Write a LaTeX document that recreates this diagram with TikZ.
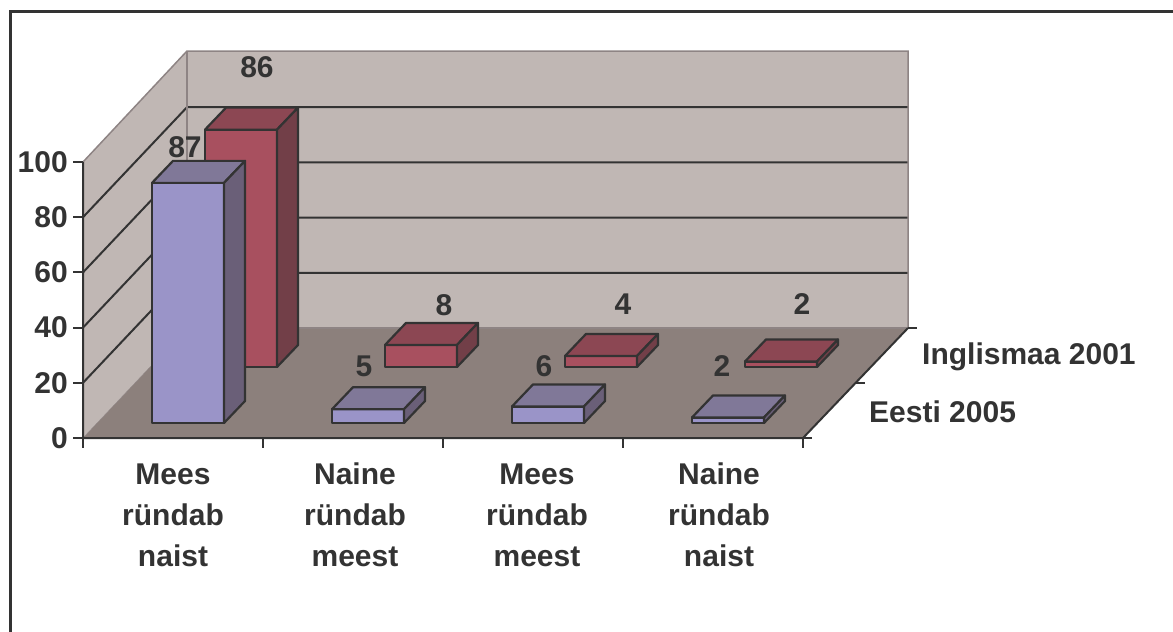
\documentclass[tikz,border=0pt]{standalone}
\usepackage{fontspec}
\setmainfont{Liberation Sans}
\usetikzlibrary{positioning}
\definecolor{wallgray}{HTML}{C0B7B4}
\definecolor{floorgray}{HTML}{8C807C}
\definecolor{edgegray}{HTML}{8E8484}
\definecolor{inkgray}{HTML}{333333}
\definecolor{bluefront}{HTML}{9A94C8}
\definecolor{bluetop}{HTML}{807898}
\definecolor{blueside}{HTML}{6A5F78}
\definecolor{redfront}{HTML}{A8505F}
\definecolor{redtop}{HTML}{8C4753}
\definecolor{redside}{HTML}{723F48}

\begin{document}
\begin{tikzpicture}[x=1pt, y=-1pt,
    lbl/.style={font=\fontsize{30}{41}\selectfont\bfseries, text=inkgray, inner sep=0pt},
    gridline/.style={inkgray, line width=2pt},
    walledge/.style={edgegray, line width=1.5pt},
    barline/.style={draw=inkgray, line width=2.2pt, line join=round}]
  \useasboundingbox (0,0) rectangle (1173,632);
  % Frame
  \draw[inkgray, line width=3pt] (10,632) -- (10,11) -- (1173,11);

  % Walls
  \fill[wallgray] (83,438) -- (83,162) -- (187,51) -- (908,51) -- (908,328) -- (187,328) -- cycle;
  \foreach \k in {1,...,4} {
    \draw[gridline] (83,438-55.2*\k) -- (187,328-55.2*\k) -- (908,328-55.2*\k);
  }
  \draw[walledge] (83,162) -- (187,51) -- (908,51) -- (908,328);
  \draw[walledge] (187,51) -- (187,328);

  % Floor
  \fill[floorgray] (83,438) -- (803,438) -- (908,328) -- (187,328) -- cycle;
  \draw[walledge] (187,328) -- (908,328);
  \draw[edgegray, thin] (83,438) -- (187,328);

  % Axes and ticks
  \draw[gridline] (83,162) -- (83,438) -- (803,438) -- (908,328);
  \foreach \k in {0,...,5} {
    \draw[gridline] (73,438-55.2*\k) -- (83,438-55.2*\k);
    \pgfmathtruncatemacro\yv{20*\k}
    \node[lbl, anchor=east] (y\k) at (68,438-55.2*\k) {\yv};
  }
  \foreach \k in {0,...,4} {
    \draw[gridline] (83+180*\k,438) -- ++(0,10);
  }
  \foreach \k in {0,1,2} {
    \draw[gridline] (803+52.5*\k,438-55*\k) -- ++(9,0);
  }

  % Inglismaa 2001 (back row)
  \foreach \v [count=\i from 0] in {86,8,4,2} {
    \pgfmathsetmacro\xa{205+180*\i}
    \pgfmathsetmacro\ya{367-\v*2.76}
    \filldraw[barline, fill=redfront] (\xa,367) rectangle (\xa+72,\ya);
    \filldraw[barline, fill=redtop] (\xa,\ya) -- ++(21,-22) -- ++(72,0) -- (\xa+72,\ya) -- cycle;
    \filldraw[barline, fill=redside] (\xa+72,367) -- ++(21,-22) -- (\xa+93,\ya-22) -- (\xa+72,\ya) -- cycle;
  }

  % Eesti 2005 (front row)
  \foreach \v [count=\i from 0] in {87,5,6,2} {
    \pgfmathsetmacro\xa{152+180*\i}
    \pgfmathsetmacro\ya{423-\v*2.76}
    \filldraw[barline, fill=bluefront] (\xa,423) rectangle (\xa+72,\ya);
    \filldraw[barline, fill=bluetop] (\xa,\ya) -- ++(21,-22) -- ++(72,0) -- (\xa+72,\ya) -- cycle;
    \filldraw[barline, fill=blueside] (\xa+72,423) -- ++(21,-22) -- (\xa+93,\ya-22) -- (\xa+72,\ya) -- cycle;
  }

  % Value labels
  \foreach \v/\lx/\ly [count=\i] in {86/257/67, 8/444/305, 4/623/304, 2/802/304} {
    \node[lbl] (ingl\i) at (\lx,\ly) {\v};
  }
  \foreach \v/\lx/\ly [count=\i] in {87/185/147, 5/364/366, 6/544/366, 2/722/366} {
    \node[lbl] (eesti\i) at (\lx,\ly) {\v};
  }

  % Categories
  \foreach \t [count=\i from 0] in {{Mees\\ründab\\naist}, {Naine\\ründab\\meest}, {Mees\\ründab\\meest}, {Naine\\ründab\\naist}} {
    \node[lbl, align=center] (cat\i) at (173+182*\i,515) {\t};
  }

  % Legend
  \node[lbl, anchor=west] (leg1) at (922,357) {Inglismaa 2001};
  \node[lbl, anchor=west] (leg2) at (869,412) {Eesti 2005};
\end{tikzpicture}
\end{document}
